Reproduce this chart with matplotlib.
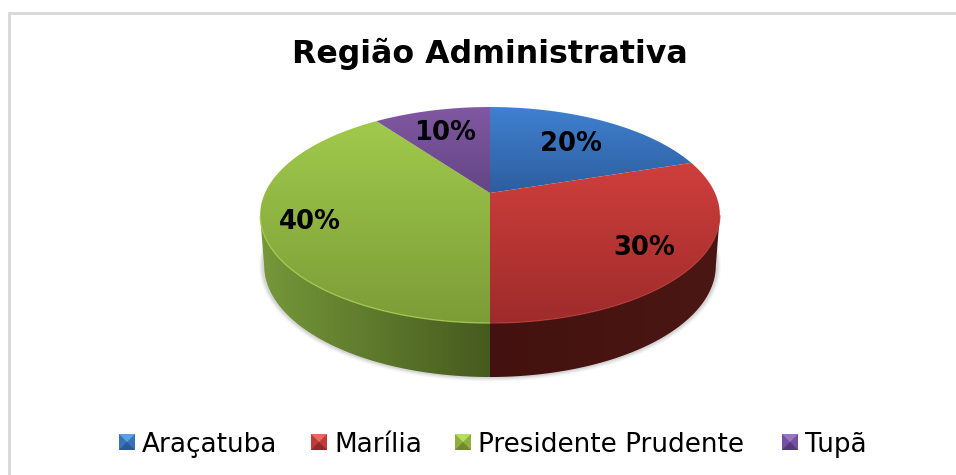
import numpy as np
import matplotlib
matplotlib.use("Agg")
import matplotlib.pyplot as plt
from matplotlib.colors import LinearSegmentedColormap
from matplotlib.patches import Polygon, Rectangle

title = "Região Administrativa"
categories = ["Araçatuba", "Marília", "Presidente Prudente", "Tupã"]
values = [20, 30, 40, 10]
value_labels = ["20%", "30%", "40%", "10%"]

top_colors = ["#4080d0", "#cf3f3c", "#a0ca4c", "#8158a2"]
low_colors = ["#2d5e9e", "#9e2b2b", "#7c9c37", "#644585"]
wall_colors = [("#2a4f80", "#1d3a60"), ("#43110f", "#4b1714"),
               ("#465a1e", "#76983a"), ("#4a3566", "#3a2850")]
rim_colors = ["#4080d0", "#b83836", "#a4cf50", "#8158a2"]
marker_top = ["#5b9fe8", "#f0635e", "#b8dc5c", "#9a74c4"]
marker_mid = ["#3a72b8", "#bf3a38", "#8fb03f", "#7350a0"]
marker_low = ["#2b5a96", "#8f2a2a", "#6f8a30", "#553a7a"]
label_pos = [(571, 144), (644, 248), (310, 222), (445, 133)]
legend_marker_x = [119, 311, 455, 782]
legend_text_x = [142, 334, 478, 805]

plt.rcParams["font.family"] = "DejaVu Sans"
fig = plt.figure(figsize=(9.56, 4.75), dpi=100, facecolor="white")
ax = fig.add_axes([0, 0, 1, 1])

# The pie supplies wedge angles; they are then projected to a tilted disc.
wedges = ax.pie(values, startangle=90, counterclock=False, radius=1)[0]
ax.set_aspect("auto")
ax.set_xlim(0, 956)
ax.set_ylim(475, 0)
ax.axis("off")

CX, APEX_Y = 490.0, 193.0
A, B, K = 225.0, 103.5, 0.204
ELL_Y, ELL_RX, ELL_RY = 215.0, 230.0, 108.0
BOT_Y, BOT_RX, BOT_RY = 265.5, 226.0, 111.5


def project(theta_deg):
    t = np.radians(theta_deg)
    d = 1 + K * np.cos(t)
    return CX + A * np.sin(t) / d, APEX_Y - B * np.cos(t) / d


def to_bottom(x, y):
    return CX + (x - CX) * BOT_RX / ELL_RX, BOT_Y + (y - ELL_Y) * BOT_RY / ELL_RY


def gradient(poly, c0, c1, horizontal, extent, z):
    cmap = LinearSegmentedColormap.from_list("g", [c0, c1])
    arr = np.linspace(0, 1, 256)
    arr = arr[None, :] if horizontal else arr[:, None]
    im = ax.imshow(arr, cmap=cmap, extent=extent, aspect="auto",
                   origin="upper", zorder=z, interpolation="bilinear")
    patch = Polygon(poly, closed=True, transform=ax.transData,
                    facecolor="none", edgecolor="none")
    ax.add_patch(patch)
    im.set_clip_path(patch)


# soft shadow around the wall
tt = np.radians(np.linspace(82, 278, 240))
for w, a in [(9, 0.04), (7, 0.05), (5, 0.07), (3, 0.10)]:
    ax.plot(CX + (BOT_RX + 0.5) * np.sin(tt), BOT_Y - BOT_RY * np.cos(tt),
            color="#555555", lw=w * 0.72, alpha=a, zorder=1, solid_capstyle="round")

for i, w in enumerate(wedges):
    w.set_visible(False)
    t_start = 90 - w.theta2
    t_end = 90 - w.theta1
    th = np.linspace(t_start, t_end, 240)
    x, y = project(th)

    # wall: only the part of the rim on the near half of the disc
    near = y >= ELL_Y
    if near.sum() > 1:
        xt, yt = x[near], y[near]
        xb, yb = to_bottom(xt, yt)
        wall = np.column_stack([np.r_[xt, xb[::-1]], np.r_[yt, yb[::-1]]])
        c0, c1 = wall_colors[i]
        if xt.mean() > CX:
            extent = (CX, CX + ELL_RX, 385, 160)
        else:
            extent = (CX, CX - ELL_RX, 385, 160)
        gradient(wall, c0, c1, True, extent, 2)

    # top face, with a gradient spanning the slice's own height
    poly = np.column_stack([np.r_[CX, x], np.r_[APEX_Y, y]])
    gradient(poly, top_colors[i], low_colors[i], False,
             (CX - ELL_RX, CX + ELL_RX, poly[:, 1].max(), poly[:, 1].min()), 3)

    # light rim of the disc on the near side
    if near.sum() > 1:
        ax.plot(x[near], y[near], color=rim_colors[i], lw=1.0, alpha=0.8,
                zorder=4, solid_capstyle="butt")

    ax.text(*label_pos[i], value_labels[i], fontsize=18.6, fontweight="bold",
            ha="center", va="center", color="black", zorder=6)

ax.text(490, 54, title, fontsize=22.8, fontweight="bold", ha="center",
        va="center", color="black", zorder=6)

# legend
S = 16
LY = 434
for i, name in enumerate(categories):
    x0 = legend_marker_x[i]
    cx, cy = x0 + S / 2, LY + S / 2
    ax.add_patch(Rectangle((x0, LY), S, S, facecolor=marker_mid[i],
                           edgecolor="none", zorder=5))
    ax.add_patch(Polygon([(x0, LY), (x0 + S, LY), (cx, cy)], facecolor=marker_top[i],
                         edgecolor="none", zorder=6))
    ax.add_patch(Polygon([(x0, LY + S), (x0 + S, LY + S), (cx, cy)], facecolor=marker_low[i],
                         edgecolor="none", zorder=6))
    ax.text(legend_text_x[i], LY + S / 2 + 0.5, name, fontsize=18.9, ha="left",
            va="center_baseline", color="black", zorder=6)

# chart frame (runs off the image at the right and bottom)
ax.plot([9, 9, 956], [475, 13, 13], color="#d9d9d9", lw=2.1, zorder=0,
        solid_joinstyle="miter", solid_capstyle="butt")

fig.savefig("out.png", dpi=100, facecolor="white")
